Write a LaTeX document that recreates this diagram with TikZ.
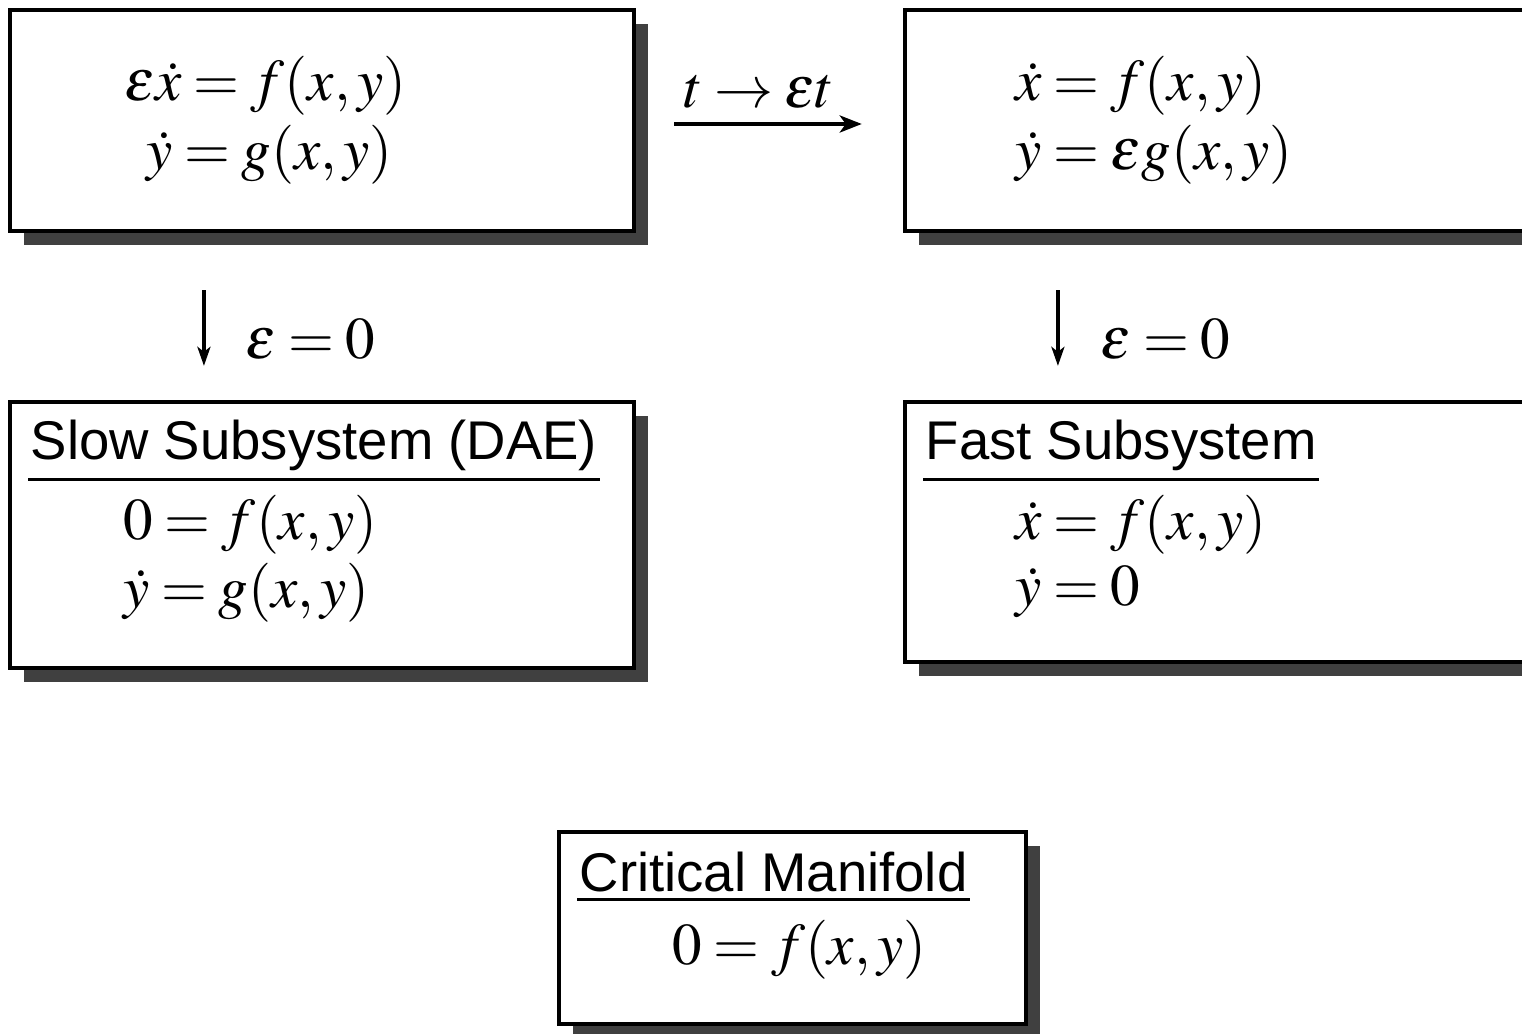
\documentclass[tikz,border=0pt]{standalone}
\usepackage{mathptmx}
\usepackage[no-math]{fontspec}
\setmainfont{Liberation Serif}
\setsansfont{Liberation Sans}
\usetikzlibrary{arrows.meta, shadows}
\thickmuskip=3.5mu

\begin{document}
\begin{tikzpicture}[x=0.01cm,y=-0.01cm,
  box/.style={rectangle,draw=black,line width=1.15pt,fill=white,minimum width=6.24cm, drop shadow={shadow xshift=0.14cm,shadow yshift=-0.14cm,fill=black!75,opacity=1}},
  hdr/.style={anchor=base west,inner xsep=0.02cm,inner ysep=0.07cm,font=\fontsize{15.5}{18}\sffamily},
  eq/.style={anchor=base west,inner sep=0pt,font=\fontsize{16.8}{20}\selectfont},
  uline/.style={line width=0.85pt},
  arr/.style={-{Stealth[length=0.22cm,width=0.17cm,inset=0.06cm]},line width=1.15pt},
  darr/.style={-{Stealth[length=0.19cm,width=0.13cm,inset=0.05cm]},line width=1pt}
]
  \useasboundingbox (0,0) rectangle (1522,1034);
  \clip (0,0) rectangle (1522,1034);

  \node[box,minimum height=2.21cm](b0) at (322,120.5){};
  \node[box,minimum height=2.21cm](b1) at (1217,120.5){};
  \node[box,minimum height=2.66cm](s0) at (322,535){};
  \node[box,minimum height=2.60cm](f0) at (1217,532){};
  \node[box,minimum width=4.67cm,minimum height=1.92cm](c0) at (792.5,928){};

  \node[eq](b0e1) at (124,101){$\varepsilon\dot{x} = f(x,y)$};
  \node[eq](b0e2) at (146,170){$\dot{y} = g(x,y)$};
  \node[eq](b1e1) at (1015,101){$\dot{x} = f(x,y)$};
  \node[eq](b1e2) at (1015,170){$\dot{y} = \varepsilon g(x,y)$};

  \node[hdr](s0h) at (28,460){Slow Subsystem (DAE)};
  \node[eq](s0e1) at (123,539){$0 = f(x,y)$};
  \node[eq](s0e2) at (123,607){$\dot{y} = g(x,y)$};
  \node[hdr](f0h) at (923,460){Fast Subsystem};
  \node[eq](f0e1) at (1015,539){$\dot{x} = f(x,y)$};
  \node[eq](f0e2) at (1015,605){$\dot{y} = 0$};
  \node[hdr](c0h) at (577,891){Critical Manifold};
  \node[eq](c0e1) at (672,964){$0 = f(x,y)$};

  \draw[uline](s0h.south west)--(s0h.south east);
  \draw[uline](f0h.south west)--(f0h.south east);
  \draw[uline](c0h.south west)--(c0h.south east);

  \draw[arr,shorten <=0.38cm,shorten >=0.41cm]([yshift=-0.035cm]b0.east)--([yshift=-0.035cm]b1.west);
  \node[eq,anchor=base](lt) at (759,108){$t \rightarrow \varepsilon t$};
  \draw[darr,shorten <=0.57cm,shorten >=0.34cm]([xshift=-1.18cm]b0.south)--([xshift=-1.18cm]s0.north);
  \draw[darr,shorten <=0.57cm,shorten >=0.34cm]([xshift=-1.59cm]b1.south)--([xshift=-1.59cm]f0.north);
  \node[eq](ls) at (245,359){$\varepsilon = 0$};
  \node[eq](lf) at (1100,359){$\varepsilon = 0$};
\end{tikzpicture}
\end{document}
